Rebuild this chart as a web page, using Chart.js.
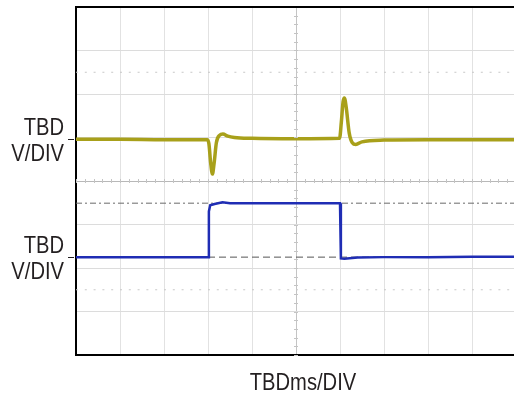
<!DOCTYPE html>
<html>
<head>
<meta charset="utf-8">
<script src="https://cdn.jsdelivr.net/npm/chart.js@4.4.1/dist/chart.umd.min.js"></script>
<style>
  body { margin: 0; overflow: hidden; background: #fff; }
</style>
</head>
<body>
<canvas id="myChart" width="520" height="393"></canvas>
<script>
// time in divisions, level in divisions (8 div tall screen)
var ch1Time  = [0, 1, 2, 2.98, 3.02, 3.06, 3.10, 3.14, 3.19, 3.26, 3.34, 3.45, 3.6, 4, 5, 5.99, 6.03, 6.07, 6.10, 6.14, 6.21, 6.28, 6.36, 6.5, 7, 8, 9, 10];
var ch1Level = [4.96, 4.96, 4.95, 4.95, 4.86, 4.42, 4.16, 4.42, 4.88, 5.05, 5.08, 5.03, 5.0, 4.98, 4.97, 4.98, 5.35, 5.82, 5.91, 5.7, 5.1, 4.88, 4.84, 4.9, 4.94, 4.95, 4.95, 4.95];
var ch2Time  = [0, 1, 2, 3.0, 3.02, 3.05, 3.15, 3.33, 3.5, 4, 5, 6.0, 6.02, 6.1, 6.4, 7, 8, 9, 10];
var ch2Level = [2.25, 2.25, 2.25, 2.25, 3.3, 3.44, 3.47, 3.51, 3.49, 3.49, 3.49, 3.49, 2.22, 2.21, 2.24, 2.25, 2.25, 2.26, 2.26];
var refLevels = { dashDot: 3.49, dashed: 2.25, dotTop: 6.5, dotBottom: 1.5 };
var chLabels = ["TBD", "V/DIV"];
var xTitle = "TBDms/DIV";

var font = '"Liberation Sans", Arial, sans-serif';
var narrow = 0.84;

function pts(xs, ys) {
    var out = [];
    for (var i = 0; i < xs.length; i++) out.push({ x: xs[i], y: ys[i] });
    return out;
}
function refLine(v, color, dash) {
    return {
        data: [{ x: 0, y: v }, { x: 10, y: v }],
        borderColor: color, borderWidth: 1, borderDash: dash,
        pointRadius: 0, fill: false, order: 5
    };
}
// condensed text: squeeze horizontally around the anchor point
function narrowText(ctx, txt, x, y, align) {
    var w = ctx.measureText(txt).width * narrow;
    var left = align === 'right' ? x - w : (align === 'center' ? x - w / 2 : x);
    ctx.save();
    ctx.textAlign = 'left';
    ctx.translate(left, y);
    ctx.scale(narrow, 1);
    ctx.fillText(txt, 0, 0);
    ctx.restore();
}

var scopeDecor = {
    id: 'scopeDecor',
    afterDatasetsDraw: function(chart) {
        var ctx = chart.ctx, a = chart.chartArea;
        var xs = chart.scales.x, ys = chart.scales.y;
        ctx.save();
        // small ticks on the centre cross
        ctx.strokeStyle = '#c4c4c4';
        ctx.lineWidth = 1;
        var cx = xs.getPixelForValue(5), cy = ys.getPixelForValue(4);
        for (var t = 0; t <= 10; t += 0.2) {
            var px = Math.round(xs.getPixelForValue(t)) + 0.5;
            ctx.beginPath(); ctx.moveTo(px, cy - 2); ctx.lineTo(px, cy + 2); ctx.stroke();
        }
        for (var v = 0; v <= 8; v += 0.2) {
            var py = Math.round(ys.getPixelForValue(v)) + 0.5;
            ctx.beginPath(); ctx.moveTo(cx - 2, py); ctx.lineTo(cx + 2, py); ctx.stroke();
        }
        // top frame line
        ctx.strokeStyle = '#000';
        ctx.lineWidth = 2;
        ctx.beginPath(); ctx.moveTo(a.left - 1, a.top); ctx.lineTo(a.right, a.top); ctx.stroke();
        // channel labels
        ctx.fillStyle = '#231f20';
        ctx.font = '24px ' + font;
        [ch1Level[0], ch2Level[0]].forEach(function(lv) {
            var y = Math.round(ys.getPixelForValue(lv));
            narrowText(ctx, chLabels[0], 64, y - 4, 'right');
            narrowText(ctx, chLabels[1], 64, y + 22, 'right');
            ctx.strokeStyle = '#231f20';
            ctx.lineWidth = 1;
            ctx.beginPath(); ctx.moveTo(68, y + 0.5); ctx.lineTo(74, y + 0.5); ctx.stroke();
        });
        narrowText(ctx, xTitle, 303, 390, 'center');
        ctx.restore();
    }
};

var ctx = document.getElementById("myChart");
var myChart = new Chart(ctx, {
    type: 'line',
    data: {
        datasets: [
            refLine(refLevels.dotTop, '#c8c8c8', [2, 6.8]),
            refLine(refLevels.dotBottom, '#c8c8c8', [2, 6.8]),
            refLine(refLevels.dashDot, '#6a6a6a', [6, 3, 2, 3]),
            refLine(refLevels.dashed, '#555555', [7, 4]),
            {
                data: pts(ch1Time, ch1Level),
                borderColor: '#a8a01a', borderWidth: 3.5,
                pointRadius: 0, cubicInterpolationMode: 'monotone', fill: false, order: 2
            },
            {
                data: pts(ch2Time, ch2Level),
                borderColor: '#1f2db4', borderWidth: 2.5,
                pointRadius: 0, tension: 0, fill: false, order: 1
            }
        ]
    },
    options: {
        responsive: false,
        animation: false,
        layout: { padding: { left: 76, right: 4, top: 7, bottom: 38 } },
        plugins: { legend: { display: false }, tooltip: { enabled: false } },
        scales: {
            x: {
                type: 'linear', min: 0, max: 10,
                ticks: { display: false, stepSize: 1 },
                grid: {
                    drawTicks: false,
                    color: function(c) { return c.tick && c.tick.value === 5 ? '#c4c4c4' : '#e2e2e2'; }
                },
                border: { display: true, color: '#000', width: 2 }
            },
            y: {
                min: 0, max: 8,
                ticks: { display: false, stepSize: 1 },
                grid: {
                    drawTicks: false,
                    color: function(c) { return c.tick && c.tick.value === 4 ? '#b8b8b8' : '#dcdcdc'; }
                },
                border: { display: true, color: '#000', width: 2 }
            }
        }
    },
    plugins: [scopeDecor]
});
</script>
</body>
</html>
